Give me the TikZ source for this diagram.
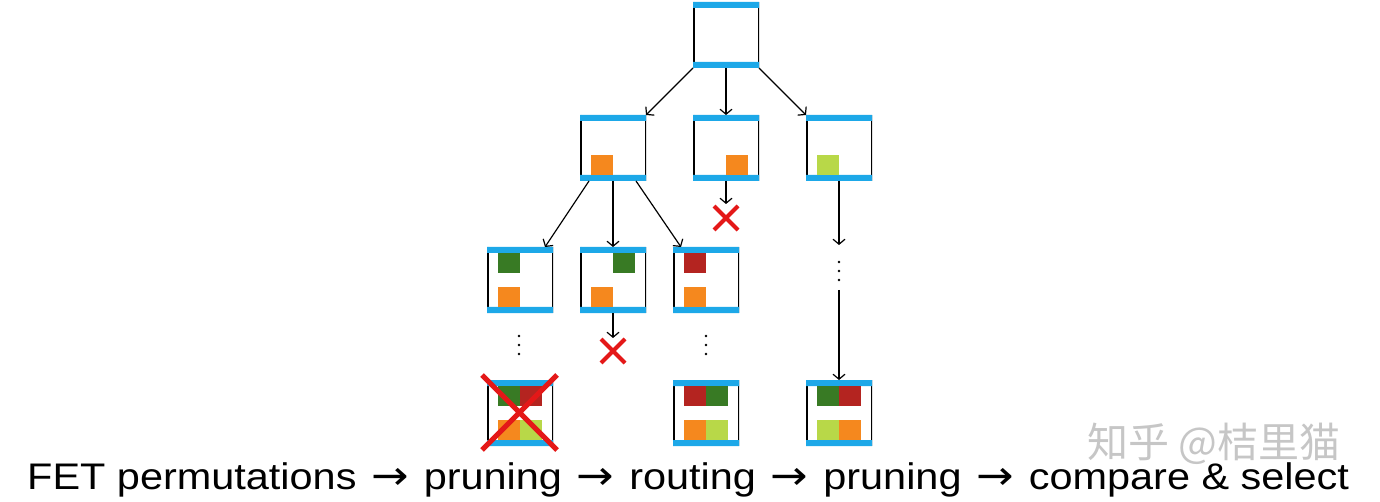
\documentclass[tikz,border=0pt]{standalone}
\usepackage{fontspec}
\setmainfont{Liberation Sans}
\newfontfamily\cjkfont{Noto Sans CJK SC}
\newfontfamily\arrowfont{DejaVu Sans}
\usetikzlibrary{arrows.meta}
\definecolor{mblue}{RGB}{29,168,232}
\definecolor{morange}{RGB}{245,136,30}
\definecolor{mgreen}{RGB}{56,122,36}
\definecolor{mred}{RGB}{180,36,32}
\definecolor{mlime}{RGB}{184,216,72}
\definecolor{mcross}{RGB}{228,24,24}

\newcommand{\fetcell}[4]{%
  \fill[#4] ([xshift={11pt+22pt*#2},yshift={-6pt-34pt*#3}]#1.north west) rectangle ++(22pt,-20pt);}
\newcommand{\then}{ \hspace{3pt}{\arrowfont\fontsize{40}{44}\selectfont →}\hspace{3pt} }

\begin{document}
\begin{tikzpicture}[x=1pt, y=1pt,
  fetbox/.style={minimum width=66pt, minimum height=66pt, inner sep=0pt, outer sep=0pt,
    path picture={
      \draw[line width=3pt] (path picture bounding box.north west) -- (path picture bounding box.south west)
        (path picture bounding box.north east) -- (path picture bounding box.south east);
      \fill[mblue] (path picture bounding box.north west) rectangle ([yshift=-6pt]path picture bounding box.north east)
        (path picture bounding box.south west) rectangle ([yshift=6pt]path picture bounding box.south east);
    }},
  link/.style={-{Straight Barb[length=5pt,width=12pt]}, line width=1.2pt},
  cut/.style={draw=mcross, line width=4pt}]
  \useasboundingbox (0,0) rectangle (1380,-502);

  \node[fetbox] (root) at (726,-35) {};
  \node[fetbox] (p1) at (613,-148) {};
  \node[fetbox] (p2) at (726,-148) {};
  \node[fetbox] (p3) at (839,-148) {};
  \node[fetbox] (q1) at (520,-280) {};
  \node[fetbox] (q2) at (613,-280) {};
  \node[fetbox] (q3) at (706,-280) {};
  \node[fetbox] (r1) at (520,-413) {};
  \node[fetbox] (r2) at (706,-413) {};
  \node[fetbox] (r3) at (839,-413) {};

  \fetcell{p1}{0}{1}{morange}
  \fetcell{p2}{1}{1}{morange}
  \fetcell{p3}{0}{1}{mlime}
  \fetcell{q1}{0}{0}{mgreen} \fetcell{q1}{0}{1}{morange}
  \fetcell{q2}{1}{0}{mgreen} \fetcell{q2}{0}{1}{morange}
  \fetcell{q3}{0}{0}{mred}   \fetcell{q3}{0}{1}{morange}
  \fetcell{r1}{0}{0}{mgreen} \fetcell{r1}{1}{0}{mred}   \fetcell{r1}{0}{1}{morange} \fetcell{r1}{1}{1}{mlime}
  \fetcell{r2}{0}{0}{mred}   \fetcell{r2}{1}{0}{mgreen} \fetcell{r2}{0}{1}{morange} \fetcell{r2}{1}{1}{mlime}
  \fetcell{r3}{0}{0}{mgreen} \fetcell{r3}{1}{0}{mred}   \fetcell{r3}{0}{1}{mlime}   \fetcell{r3}{1}{1}{morange}

  \coordinate (x1) at (726,-218);
  \coordinate (x2) at (613,-351);
  \coordinate (d1) at (519,-345);
  \coordinate (d2) at (706,-345);
  \coordinate (d3) at (839,-271);

  \draw[link] (root.south west) -- (p1.north east);
  \draw[link] (root.south) -- (p2.north);
  \draw[link] (root.south east) -- (p3.north west);
  \draw[link] ([xshift=9pt]p1.south west) -- ([xshift=-8pt]q1.north east);
  \draw[link] (p1.south) -- (q2.north);
  \draw[link] ([xshift=-10pt]p1.south east) -- ([xshift=8pt]q3.north west);
  \draw[link] (p2.south) -- ([yshift=14pt]x1);
  \draw[link] (q2.south) -- ([yshift=13pt]x2);
  \draw[link] (p3.south) -- ([yshift=26pt]d3);
  \draw[link] ([yshift=-19pt]d3) -- (r3.north);

  \foreach \d in {d1,d2,d3}
    \foreach \k in {-9,0,9}
      \fill ([yshift=\k pt]\d) circle (1.4pt);

  \draw[cut] (x1) +(-12,-12) -- +(12,12) (x1) +(-12,12) -- +(12,-12);
  \draw[cut] (x2) +(-12,-12) -- +(12,12) (x2) +(-12,12) -- +(12,-12);
  \draw[cut, line width=5pt] ([shift={(-5pt,5pt)}]r1.north west) -- ([shift={(4pt,-4pt)}]r1.south east)
    ([shift={(4pt,5pt)}]r1.north east) -- ([shift={(-5pt,-4pt)}]r1.south west);

  \node[anchor=west, inner sep=0pt, text=gray!45, font=\cjkfont\fontsize{41}{44}\selectfont] (mark) at (1087,-444) {知乎 @桔里猫};
  \node[anchor=base west, inner sep=0pt, font=\fontsize{37}{44}\selectfont] (caption) at (27,-489)
    {\scalebox{1.12}[1]{FET permutations\then pruning\then routing\then pruning\then compare \& select}};
\end{tikzpicture}
\end{document}
